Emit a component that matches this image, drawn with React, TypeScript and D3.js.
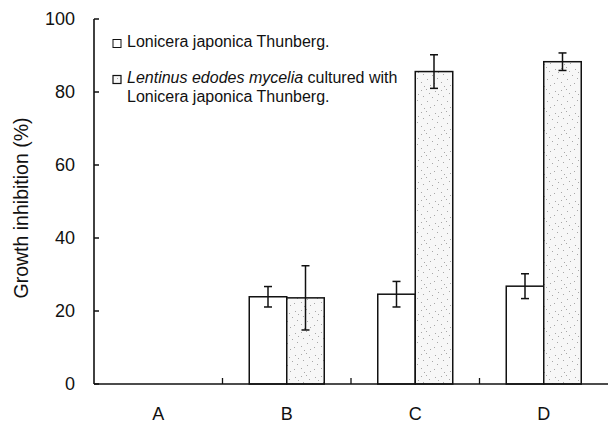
import React from "react";
import * as d3 from "d3";

const categories = ["A", "B", "C", "D"];
const seriesNames = ["Lonicera japonica Thunberg.", "Lentinus edodes mycelia cultured with Lonicera japonica Thunberg."];
const loniceraValues = [0, 23.9, 24.6, 26.8];
const loniceraErrors = [0, 2.8, 3.5, 3.4];
const lentinusValues = [0, 23.6, 85.6, 88.3];
const lentinusErrors = [0, 8.8, 4.6, 2.4];
const yTicks = [0, 20, 40, 60, 80, 100];

const W = 609, H = 423;
const left = 94, right = 608, top = 19, bottom = 384;

// deterministic stipple dot layout for the texture (not data)
const dots: [number, number][] = [
  [1, 2], [6, 1], [15, 3], [9, 5], [3, 8], [12, 9], [17, 12], [7, 13], [1, 16], [14, 17], [10, 19], [4, 20], [18, 6],
];

export default function App() {
  const x0 = d3.scaleBand<string>().domain(categories).range([left, right]).paddingInner(0).paddingOuter(0);
  const x1 = d3.scaleBand<string>().domain(["s0", "s1"]).range([x0.bandwidth() / 2 - 37.5, x0.bandwidth() / 2 + 37.5]);
  const y = d3.scaleLinear().domain([0, 100]).range([bottom, top]);
  const font = "Arial, 'Liberation Sans', sans-serif";

  const series = [
    { key: "s0", vals: loniceraValues, errs: loniceraErrors, fill: "#ffffff" },
    { key: "s1", vals: lentinusValues, errs: lentinusErrors, fill: "url(#stipple)" },
  ];

  return (
    <svg width={W} height={H} style={{ position: "absolute", left: 0, top: 0, background: "#fff" }}>
      <defs>
        <pattern id="stipple" width={20} height={22} patternUnits="userSpaceOnUse">
          <rect width={20} height={22} fill="#f7f7f7" />
          {dots.map((d, i) => (
            <rect key={i} x={d[0]} y={d[1]} width={1} height={1} fill="#a8a8a8" />
          ))}
        </pattern>
      </defs>

      {/* bars */}
      {series.map((s) =>
        categories.map((c, i) => {
          const bx = (x0(c) as number) + (x1(s.key) as number);
          const bw = x1.bandwidth();
          const v = s.vals[i];
          if (v <= 0) return null;
          const cx = bx + bw / 2;
          return (
            <g key={s.key + c}>
              <rect x={bx} y={y(v)} width={bw} height={bottom - y(v)} fill={s.fill} stroke="#111" strokeWidth={1.5} />
              <line x1={cx} x2={cx} y1={y(v + s.errs[i])} y2={y(v - s.errs[i])} stroke="#111" strokeWidth={1.5} />
              <line x1={cx - 4} x2={cx + 4} y1={y(v + s.errs[i])} y2={y(v + s.errs[i])} stroke="#111" strokeWidth={1.5} />
              <line x1={cx - 4} x2={cx + 4} y1={y(v - s.errs[i])} y2={y(v - s.errs[i])} stroke="#111" strokeWidth={1.5} />
            </g>
          );
        })
      )}

      {/* y axis */}
      <line x1={left} x2={left} y1={top} y2={bottom} stroke="#111" strokeWidth={1.6} />
      {yTicks.map((t) => (
        <g key={t}>
          <line x1={left} x2={left + 5} y1={y(t)} y2={y(t)} stroke="#111" strokeWidth={1.5} />
          <text x={75} y={y(t)} dy="0.36em" textAnchor="end" fontFamily={font} fontSize={18} fill="#111">
            {t}
          </text>
        </g>
      ))}

      {/* x axis */}
      <line x1={left} x2={right} y1={bottom} y2={bottom} stroke="#111" strokeWidth={1.6} />
      {categories.slice(1).map((c) => (
        <line key={c} x1={x0(c) as number} x2={x0(c) as number} y1={bottom} y2={bottom - 6} stroke="#111" strokeWidth={1.3} />
      ))}
      {categories.map((c) => (
        <text key={c} x={(x0(c) as number) + x0.bandwidth() / 2} y={420} textAnchor="middle" fontFamily={font} fontSize={18} fill="#111">
          {c}
        </text>
      ))}

      {/* y title */}
      <text transform={`translate(28,208) rotate(-90)`} textAnchor="middle" fontFamily={font} fontSize={19.5} fill="#111">
        Growth inhibition (%)
      </text>

      {/* legend */}
      <rect x={113} y={39.5} width={8} height={8} fill="#fff" stroke="#111" strokeWidth={1} />
      <text x={127} y={47} fontFamily={font} fontSize={16} fill="#111">
        {seriesNames[0]}
      </text>
      <rect x={113} y={75.5} width={8} height={8} fill="url(#stipple)" stroke="#111" strokeWidth={1.2} />
      <text x={127} y={83} fontFamily={font} fontSize={16} fill="#111">
        <tspan fontStyle="italic">Lentinus edodes mycelia</tspan> cultured with
      </text>
      <text x={127} y={102} fontFamily={font} fontSize={16} fill="#111">
        Lonicera japonica Thunberg.
      </text>
    </svg>
  );
}
